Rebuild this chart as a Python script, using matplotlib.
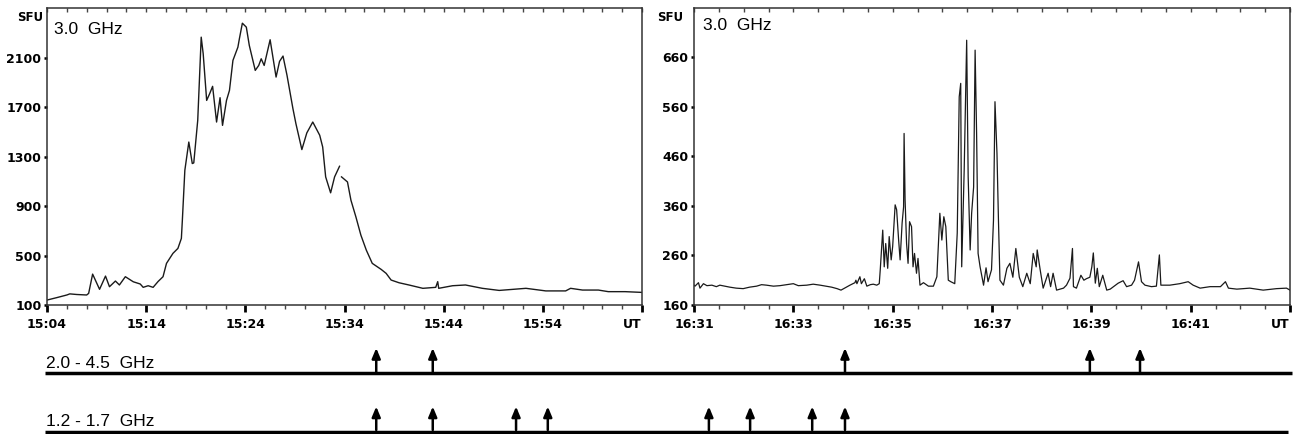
import matplotlib
matplotlib.use('Agg')
import matplotlib.pyplot as plt
from matplotlib.lines import Line2D
import numpy as np

# ---------------- data ----------------
# Left panel: minutes after 15:04 UT, flux in SFU (3.0 GHz)
left_t = [0, 1.0, 2.0, 2.3, 3.0, 4.0, 4.2, 4.6, 5.3, 5.9, 6.3, 6.9, 7.3, 7.9, 8.7, 9.4,
          9.7, 10.2, 10.7, 11.2, 11.7, 12.05, 12.7, 13.2, 13.55, 13.65, 13.9, 14.3, 14.65,
          14.8, 15.2, 15.55, 15.75, 16.1, 16.4, 16.7, 17.1, 17.45, 17.7, 18.1, 18.4, 18.75,
          19.25, 19.4, 19.7, 20.1, 20.4, 21.0, 21.35, 21.6, 21.9, 22.5, 23.1, 23.45, 23.8,
          24.2, 24.8, 25.1, 25.7, 26.2, 26.8, 27.5, 27.8, 28.1, 28.6, 29.0, 29.5, np.nan,
          29.7, 30.3, 30.65, 31.15, 31.65, 32.2, 32.8, 33.7, 34.2, 34.7, 35.5, 36.5, 37.9,
          39.2, 39.4, 39.5, 40.9, 42.2, 43.9, 45.6, 48.3, 50.3, 52.3, 52.8, 54.0, 55.6,
          56.6, 58.3, 60.0]
left_v = [140, 160, 181, 190, 185, 181, 194, 350, 227, 334, 248, 294, 262, 329, 288, 270,
          243, 256, 243, 290, 329, 437, 518, 558, 639, 787, 1190, 1419, 1245,
          1250, 1595, 2268, 2134, 1756, 1810, 1870, 1581, 1778, 1554, 1756, 1837, 2080,
          2187, 2255, 2381, 2349, 2201, 1999, 2039, 2093, 2039, 2247, 1945, 2072, 2115,
          1960, 1689, 1568, 1358, 1493, 1581, 1474, 1379, 1137, 1008, 1137, 1223, np.nan,
          1137, 1096, 948, 813, 666, 544, 437, 388, 356, 302, 280, 262, 235,
          243, 289, 235, 256, 262, 235, 218, 235, 214, 214, 235, 221, 221,
          208, 208, 202]

# Right panel: minutes after 16:31 UT, flux in SFU (3.0 GHz)
right_t = [0.00, 0.02, 0.09, 0.12, 0.19, 0.26, 0.36, 0.45, 0.52, 0.62, 0.72, 0.85, 0.99,
           1.12, 1.26, 1.36, 1.46, 1.60, 1.73, 1.86, 2.00, 2.10, 2.27, 2.40, 2.54, 2.65,
           2.77, 2.88, 2.96, 3.05, 3.14, 3.24, 3.26, 3.28, 3.34, 3.37, 3.43, 3.48, 3.55,
           3.61, 3.68, 3.73, 3.75, 3.80, 3.83, 3.86, 3.90, 3.93, 3.97, 4.00, 4.05, 4.08,
           4.12, 4.15, 4.19, 4.22, 4.23, 4.25, 4.28, 4.31, 4.34, 4.38, 4.41, 4.44, 4.48,
           4.51, 4.55, 4.62, 4.72, 4.82, 4.89, 4.95, 4.99, 5.03, 5.07, 5.12, 5.17, 5.25,
           5.30, 5.34, 5.37, 5.39, 5.44, 5.49, 5.52, 5.56, 5.59, 5.63, 5.66, 5.69, 5.72,
           5.76, 5.83, 5.88, 5.92, 5.99, 6.03, 6.06, 6.10, 6.13, 6.16, 6.23, 6.30, 6.36,
           6.42, 6.48, 6.55, 6.62, 6.70, 6.77, 6.83, 6.89, 6.91, 6.97, 7.03, 7.13, 7.18,
           7.23, 7.30, 7.44, 7.50, 7.57, 7.62, 7.64, 7.70, 7.79, 7.85, 7.90, 7.97, 8.01,
           8.04, 8.08, 8.12, 8.16, 8.23, 8.31, 8.38, 8.54, 8.64, 8.71, 8.81, 8.87, 8.95,
           9.01, 9.08, 9.21, 9.31, 9.35, 9.37, 9.40, 9.58, 9.78, 9.95, 10.05, 10.19, 10.39,
           10.60, 10.70, 10.76, 10.93, 11.19, 11.46, 11.73, 11.93, 12.00]
right_v = [200, 198, 205, 194, 203, 199, 200, 197, 200, 198, 196, 194, 193,
           196, 198, 201, 200, 198, 199, 201, 203, 199, 200, 202, 200, 198,
           196, 193, 190, 195, 200, 205, 210, 203, 217, 203, 213, 198, 201,
           202, 200, 203, 231, 311, 237, 284, 234, 298, 251, 278, 362, 352,
           291, 251, 325, 358, 506, 372, 284, 244, 328, 318, 237, 264, 224,
           254, 200, 205, 198, 198, 217, 345, 291, 338, 318, 210, 207, 203,
           305, 580, 607, 237, 432, 694, 419, 271, 345, 398, 674, 506, 264,
           237, 200, 235, 207, 231, 331, 570, 466, 331, 210, 200, 234, 244,
           216, 274, 216, 197, 224, 203, 264, 237, 271, 231, 194, 224, 197,
           224, 190, 194, 200, 214, 274, 197, 194, 220, 210, 213, 216, 237,
           265, 204, 234, 197, 220, 190, 192, 204, 209, 197, 200, 210, 247,
           207, 200, 197, 198, 241, 261, 200, 200, 203, 207, 200, 194, 197,
           197, 207, 194, 192, 194, 190, 193, 194, 190]

left_xticks = [0, 10, 20, 30, 40, 50, 60]
left_xlabels = ['15:04', '15:14', '15:24', '15:34', '15:44', '15:54', 'UT']
left_yticks = [100, 500, 900, 1300, 1700, 2100]

right_xticks = [0, 2, 4, 6, 8, 10, 12]
right_xlabels = ['16:31', '16:33', '16:35', '16:37', '16:39', '16:41', 'UT']
right_yticks = [160, 260, 360, 460, 560, 660]

# arrow times (minutes after panel start) for the two spectrometer bands
band_labels = ['2.0 - 4.5  GHz', '1.2 - 1.7  GHz']
band_left_arrows = [[33.2, 38.9], [33.2, 38.9, 47.3, 50.5]]
band_right_arrows = [[3.04, 7.97, 8.98], [0.30, 1.13, 2.38, 3.04]]

# ---------------- figure ----------------
W, H = 1300, 434
fig = plt.figure(figsize=(13, 4.34), dpi=100)


def fx(px):
    return px / W


def fy(py):
    return 1 - py / H


tickfont = dict(fontfamily='DejaVu Sans', fontweight='bold', fontsize=9)
labfont = dict(fontfamily='Liberation Sans', fontsize=12.5)

axL = fig.add_axes([fx(47), fy(305), fx(642 - 47), (305 - 8) / H])
axR = fig.add_axes([fx(694), fy(305), fx(1290 - 694), (305 - 8) / H])


def style(ax, xlim, ylim, xt, xl, minor_step, yt):
    ax.set_xlim(*xlim)
    ax.set_ylim(*ylim)
    ax.set_xticks(xt)
    labs = ax.set_xticklabels(xl, **tickfont)
    labs[-1].set_ha('right')
    ax.set_xticks(np.arange(xlim[0], xlim[1] + 1e-9, minor_step), minor=True)
    ax.set_yticks(yt)
    ax.set_yticklabels([str(v) for v in yt], **tickfont)
    ax.tick_params(axis='x', which='major', direction='out', length=5, width=2,
                   pad=4.5, color='black')
    ax.tick_params(axis='x', which='minor', direction='out', length=3, width=1,
                   color='#444444')
    ax.tick_params(axis='y', which='major', direction='out', length=2.5, width=1.8,
                   pad=1.5, color='black')
    for s in ax.spines.values():
        s.set_linewidth(1.1)
        s.set_color('#333333')
    sec = ax.secondary_xaxis('top')
    sec.set_xticks(np.arange(xlim[0], xlim[1] + 1e-9, minor_step))
    sec.set_xticklabels([])
    sec.tick_params(direction='in', length=3, width=1, color='#444444')
    sec.spines['top'].set_visible(False)


style(axL, (0, 60), (100, 2504), left_xticks, left_xlabels, 2, left_yticks)
style(axR, (0, 12), (160, 759), right_xticks, right_xlabels, 0.5, right_yticks)

axL.plot(left_t, left_v, color='#1a1a1a', lw=1.0)
axR.plot(right_t, right_v, color='#1a1a1a', lw=0.9)

# in-panel labels
axL.text(7 / 595, (305 - 34) / 297, '3.0  GHz', transform=axL.transAxes,
         va='baseline', ha='left', **labfont)
axR.text(9 / 596, (305 - 29.5) / 297, '3.0  GHz', transform=axR.transAxes,
         va='baseline', ha='left', **labfont)
axL.text(-4 / 595, (305 - 21) / 297, 'SFU', transform=axL.transAxes,
         va='baseline', ha='right', fontfamily='DejaVu Sans', fontweight='bold',
         fontsize=8.5)
axR.text(-11 / 596, (305 - 21) / 297, 'SFU', transform=axR.transAxes,
         va='baseline', ha='right', fontfamily='DejaVu Sans', fontweight='bold',
         fontsize=8.5)

# bottom band timelines
line_y = [373.3, 431.5]
line_x = [(45, 1292), (45, 1288)]
text_y = [368, 425.5]
tip_y = [348, 406.5]

for i in range(2):
    fig.add_artist(Line2D([fx(line_x[i][0]), fx(line_x[i][1])], [fy(line_y[i])] * 2,
                          transform=fig.transFigure, lw=2.5, color='black',
                          solid_capstyle='butt'))
    fig.text(fx(46), fy(text_y[i]), band_labels[i], va='baseline', ha='left',
             fontfamily='Liberation Sans', fontsize=12.5)
    for ax, times in ((axL, band_left_arrows[i]), (axR, band_right_arrows[i])):
        for t in times:
            ax.annotate('', xy=(t, fy(tip_y[i])), xytext=(t, fy(line_y[i] - 1.5)),
                        xycoords=('data', 'figure fraction'),
                        textcoords=('data', 'figure fraction'),
                        annotation_clip=False,
                        arrowprops=dict(arrowstyle='-|>,head_length=0.6,head_width=0.25',
                                        lw=1.8, color='black', shrinkA=0, shrinkB=0,
                                        mutation_scale=10))

fig.savefig('out.png', dpi=100)
